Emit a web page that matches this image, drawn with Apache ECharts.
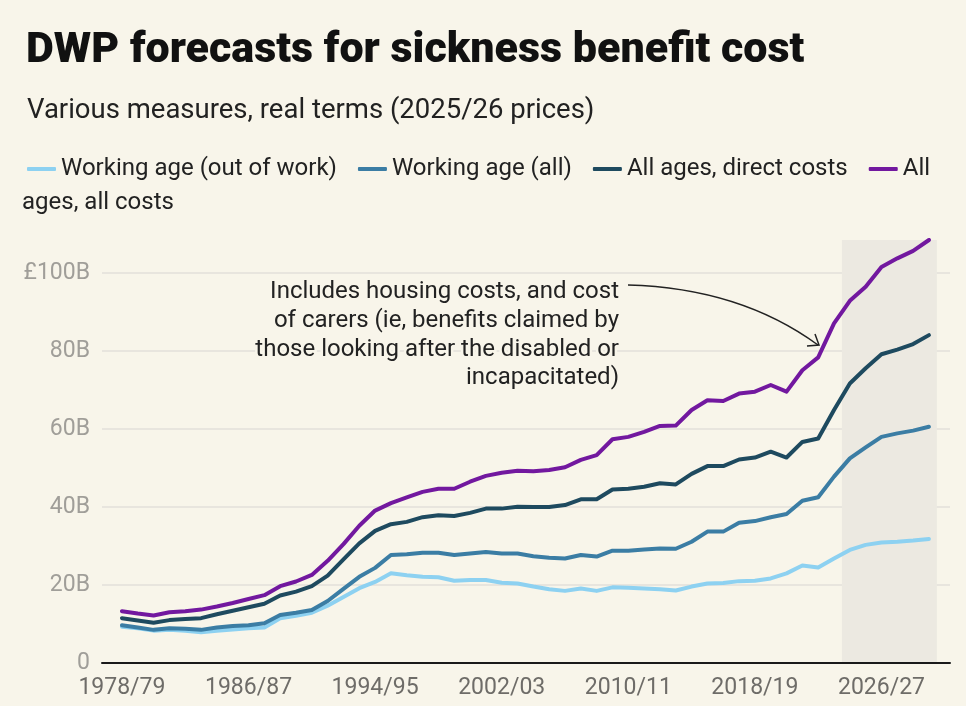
<!DOCTYPE html>
<html>
<head>
<meta charset="utf-8">
<script src="https://cdn.jsdelivr.net/npm/echarts@6/dist/echarts.min.js"></script>
<style>
  html, body { margin: 0; padding: 0; background: #f8f5ea; }
  #main { width: 966px; height: 706px; }
</style>
</head>
<body>
<div id="main"></div>
<script>
// financial years, 1978/79 .. 2029/30 (forecast from 2024/25)
var years = ['1978/79','1979/80','1980/81','1981/82','1982/83','1983/84','1984/85','1985/86',
  '1986/87','1987/88','1988/89','1989/90','1990/91','1991/92','1992/93','1993/94',
  '1994/95','1995/96','1996/97','1997/98','1998/99','1999/00','2000/01','2001/02',
  '2002/03','2003/04','2004/05','2005/06','2006/07','2007/08','2008/09','2009/10',
  '2010/11','2011/12','2012/13','2013/14','2014/15','2015/16','2016/17','2017/18',
  '2018/19','2019/20','2020/21','2021/22','2022/23','2023/24','2024/25','2025/26',
  '2026/27','2027/28','2028/29','2029/30'];
var xTickLabels = ['1978/79','1986/87','1994/95','2002/03','2010/11','2018/19','2026/27'];
var yTicks = [0, 20, 40, 60, 80, 100];
var forecastFrom = '2024/25';

// £ billions, real terms
var outOfWork = [9.3,8.9,8.3,8.5,8.3,7.9,8.3,8.6,8.9,9.1,11.5,12.1,12.9,14.7,16.9,19.2,
  20.8,23.0,22.5,22.1,22.0,21.1,21.3,21.3,20.6,20.4,19.6,18.9,18.5,19.1,18.5,19.4,
  19.3,19.1,18.9,18.6,19.6,20.4,20.5,21.0,21.1,21.7,23.0,25.0,24.5,26.8,29.0,30.3,
  30.9,31.1,31.4,31.8];
var workingAll = [9.7,9.1,8.5,8.9,8.8,8.5,9.1,9.5,9.7,10.2,12.3,12.9,13.6,15.9,19.0,22.1,
  24.4,27.7,27.9,28.3,28.3,27.7,28.1,28.5,28.1,28.1,27.4,27.0,26.8,27.7,27.3,28.8,
  28.8,29.1,29.4,29.3,31.1,33.7,33.7,36.0,36.4,37.4,38.2,41.6,42.5,47.8,52.5,55.3,
  58.0,58.9,59.6,60.6];
var allDirect = [11.5,10.9,10.3,11.0,11.3,11.5,12.5,13.4,14.3,15.2,17.3,18.3,19.7,22.4,26.6,30.7,
  33.9,35.6,36.2,37.4,37.9,37.7,38.5,39.6,39.6,40.1,40.0,40.0,40.5,42.0,42.0,44.5,
  44.7,45.2,46.1,45.8,48.5,50.5,50.5,52.2,52.7,54.2,52.7,56.7,57.6,64.9,71.7,75.6,
  79.2,80.4,81.8,84.1];
var allCosts = [13.3,12.7,12.2,13.0,13.3,13.7,14.5,15.4,16.4,17.4,19.7,20.9,22.6,26.2,30.5,35.2,
  39.1,41.0,42.5,43.9,44.7,44.7,46.5,48.0,48.8,49.3,49.2,49.5,50.2,52.1,53.3,57.4,
  58.0,59.3,60.8,60.9,64.9,67.4,67.2,69.1,69.6,71.3,69.6,75.1,78.4,87.1,92.9,96.5,
  101.6,103.8,105.7,108.5];

var seriesNames = ['Working age (out of work)', 'Working age (all)', 'All ages, direct costs', 'All ages, all costs'];
var seriesData = [outOfWork, workingAll, allDirect, allCosts];
var colors = ['#8dd1f1', '#3b7da4', '#1e4a5f', '#72189f'];

var FONT = 'Roboto, "Noto Sans", sans-serif';
var BG = '#f8f5ea';
var myChart = echarts.init(document.getElementById('main'));

function pairs(arr) {
  return arr.map(function (v, i) { return [i, v]; });
}

var fIdx = years.indexOf(forecastFrom);
var series = [];
for (var s = 0; s < seriesData.length; s++) {
  var item = {
    name: seriesNames[s],
    type: 'line',
    data: pairs(seriesData[s]),
    symbol: 'none',
    lineStyle: { width: 4, color: colors[s], cap: 'round', join: 'round' },
    itemStyle: { color: colors[s] },
    z: 3
  };
  if (s === 0) {
    // forecast period shading
    item.markArea = {
      silent: true,
      itemStyle: { color: '#ece9e1' },
      data: [[{ xAxis: fIdx - 0.5 }, { xAxis: years.length - 0.5 }]]
    };
  }
  series.push(item);
}

var option = {
  backgroundColor: BG,
  animation: false,
  color: colors,
  title: [{
    text: 'DWP forecasts for sickness benefit cost',
    left: 21, top: 25,
    textStyle: { fontFamily: FONT, fontSize: 43, fontWeight: 900, color: '#111' }
  }, {
    text: 'Various measures, real terms (2025/26 prices)',
    left: 22, top: 92,
    textStyle: { fontFamily: FONT, fontSize: 27.5, fontWeight: 'normal', color: '#222' }
  }],
  legend: {
    left: 22, top: 152,
    icon: 'roundRect',
    itemWidth: 29, itemHeight: 4,
    itemGap: 21,
    data: seriesNames,
    formatter: function (name) { return name === 'All ages, all costs' ? 'All' : name; },
    textStyle: { fontFamily: FONT, fontSize: 24, color: '#222' }
  },
  grid: { left: 102, right: 16, top: 240, bottom: 43, containLabel: false },
  xAxis: {
    type: 'value',
    min: -1.26, max: 52.33,
    z: 5,
    axisLine: { show: true, onZero: false, lineStyle: { color: '#1a1a1a', width: 2 } },
    axisTick: { show: false },
    splitLine: { show: false },
    axisLabel: {
      customValues: xTickLabels.map(function (l) { return years.indexOf(l); }),
      formatter: function (v) { return years[Math.round(v)]; },
      fontFamily: FONT, fontSize: 23, color: '#6e6c68', margin: 14
    }
  },
  yAxis: {
    type: 'value',
    min: 0, max: 108.5,
    axisLine: { show: false },
    axisTick: { show: false, customValues: yTicks },
    splitLine: { show: true, lineStyle: { color: '#e8e5de', width: 2 } },
    axisLabel: {
      customValues: yTicks,
      formatter: function (v) { return v === 0 ? '0' : (v === 100 ? '£' + v + 'B' : v + 'B'); },
      fontFamily: FONT, fontSize: 23, color: '#a09e99', margin: 12
    }
  },
  graphic: [{
    type: 'text',
    left: 22, top: 191,
    style: { text: 'ages, all costs', font: '24px ' + FONT, fill: '#222' }
  }, {
    type: 'text',
    x: 619, y: 278,
    z: 10,
    style: {
      text: 'Includes housing costs, and cost\nof carers (ie, benefits claimed by\nthose looking after the disabled or\nincapacitated)',
      font: '24px ' + FONT, fill: '#222', align: 'right', verticalAlign: 'top', lineHeight: 28.7,
      stroke: BG, lineWidth: 5, strokeFirst: true
    }
  }, {
    type: 'bezierCurve',
    z: 10,
    shape: { x1: 628, y1: 285, cpx1: 740, cpy1: 288, x2: 818, y2: 345 },
    style: { stroke: '#222', lineWidth: 1.5, fill: null }
  }, {
    type: 'polyline',
    z: 10,
    shape: { points: [[807, 346], [819, 345], [815, 334]] },
    style: { stroke: '#222', lineWidth: 1.5, fill: null }
  }],
  series: series
};

myChart.setOption(option);
</script>
</body>
</html>
